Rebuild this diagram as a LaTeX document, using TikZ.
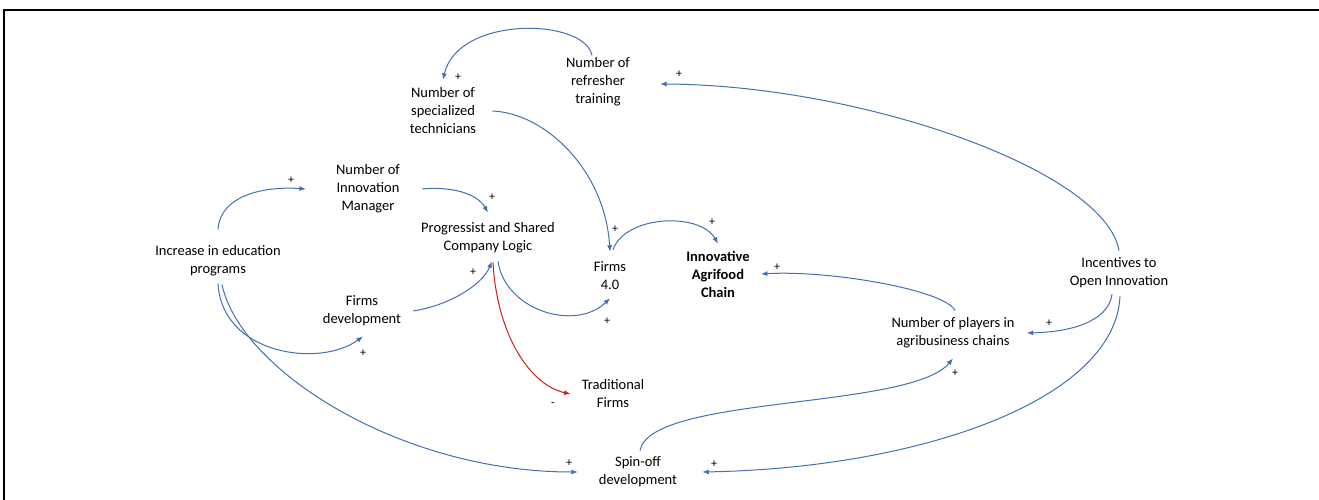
\documentclass[tikz,border=0pt]{standalone}
\usepackage{fontspec}
\setmainfont{Carlito}
\usepackage{tikz}
\usetikzlibrary{arrows.meta}
\definecolor{linkblue}{RGB}{68,110,180}
\definecolor{linkred}{RGB}{205,30,30}

\begin{document}
\begin{tikzpicture}[
  x=1pt,y=1pt,
  var/.style={align=center,inner sep=2pt,font=\fontsize{14.5}{18}\selectfont},
  sign/.style={inner sep=0pt,font=\fontsize{12}{14}\selectfont},
  link/.style={draw=linkblue,line width=1pt,-{Latex[length=6.5pt,width=5pt]}},
  neg/.style={link,draw=linkred}]
  \useasboundingbox (0,0) rectangle (1319,-500);
  \draw[line width=1.6pt] (4,-500) -- (4,-10) -- (1319,-10);
  \node[var] (ref) at (598,-82) {Number of\\refresher\\training};
  \node[var] (spec) at (443,-111) {Number of\\specialized\\technicians};
  \node[var] (im) at (368,-189) {Number of\\Innovation\\Manager};
  \node[var] (prog) at (488,-238) {Progressist and Shared\\Company Logic};
  \node[var] (edu) at (218,-261) {Increase in education\\programs};
  \node[var] (fd) at (362,-311) {Firms\\development};
  \node[var] (f40) at (610,-276) {Firms\\4.0};
  \node[var,font=\fontsize{14.5}{18}\selectfont\bfseries] (agri) at (718,-274) {Innovative\\Agrifood\\Chain};
  \node[var] (inc) at (1119,-273) {Incentives to\\Open Innovation};
  \node[var] (pl) at (953,-333) {Number of players in\\agribusiness chains};
  \node[var] (trad) at (613,-394) {Traditional\\Firms};
  \node[var] (spin) at (638,-472) {Spin-off\\development};
  \draw[link] ([xshift=-6pt]ref.north) .. controls (585,-18) and (458,-15) .. ([yshift=6pt]spec.north);
  \draw[link] ([xshift=14pt]spec.east) .. controls (545,-113) and (605,-170) .. ([yshift=8pt]f40.north);
  \draw[link] ([xshift=3pt,yshift=10pt]f40.north) .. controls (625,-215) and (700,-212) .. ([yshift=5pt]agri.north);
  \draw[link] ([yshift=5pt]inc.north) .. controls (1105,-170) and (860,-85) .. ([xshift=28pt,yshift=-2pt]ref.east);
  \draw[link] ([xshift=-7pt,yshift=-4pt]inc.south) .. controls (1108,-322) and (1070,-332) .. ([xshift=10pt]pl.east);
  \draw[link] ([xshift=1pt,yshift=-6pt]inc.south) .. controls (1115,-400) and (920,-468) .. ([xshift=23pt]spin.east);
  \draw[link] ([xshift=2pt,yshift=5pt]pl.north) .. controls (945,-290) and (830,-270) .. ([xshift=9pt]agri.east);
  \draw[link] ([xshift=2pt,yshift=4pt]spin.north) .. controls (650,-395) and (910,-410) .. ([yshift=-8pt]pl.south);
  \draw[link] ([yshift=14pt]edu.north) .. controls (220,-195) and (265,-186) .. ([xshift=-28pt]im.west);
  \draw[link] ([xshift=20pt]im.east) .. controls (455,-186) and (478,-195) .. ([yshift=8pt]prog.north);
  \draw[link] ([xshift=10pt]fd.east) .. controls (450,-305) and (482,-285) .. ([xshift=4pt,yshift=-6pt]prog.south);
  \draw[link] ([xshift=10pt,yshift=-6pt]prog.south) .. controls (505,-310) and (575,-332) .. ([yshift=-6pt]f40.south);
  \draw[neg] ([xshift=5pt,yshift=-7pt]prog.south) .. controls (497,-335) and (530,-385) .. ([xshift=-9pt]trad.west);
  \draw[link] ([yshift=-5pt]edu.south) .. controls (222,-355) and (320,-368) .. ([xshift=1pt,yshift=-8pt]fd.south);
  \draw[link] ([xshift=4pt,yshift=-6pt]edu.south) .. controls (240,-370) and (400,-472) .. ([xshift=-19pt]spin.west);
  \foreach \px/\py [count=\i] in {458/77,679/74,291/180,492/197,615/229,712/222,473/272,607/321,363/353,569/463,714/464,955/373,1049/323,777/267}
    \node[sign] (plus\i) at (\px,-\py) {+};
  \node[sign] (minus) at (553,-405) {-};
\end{tikzpicture}
\end{document}
